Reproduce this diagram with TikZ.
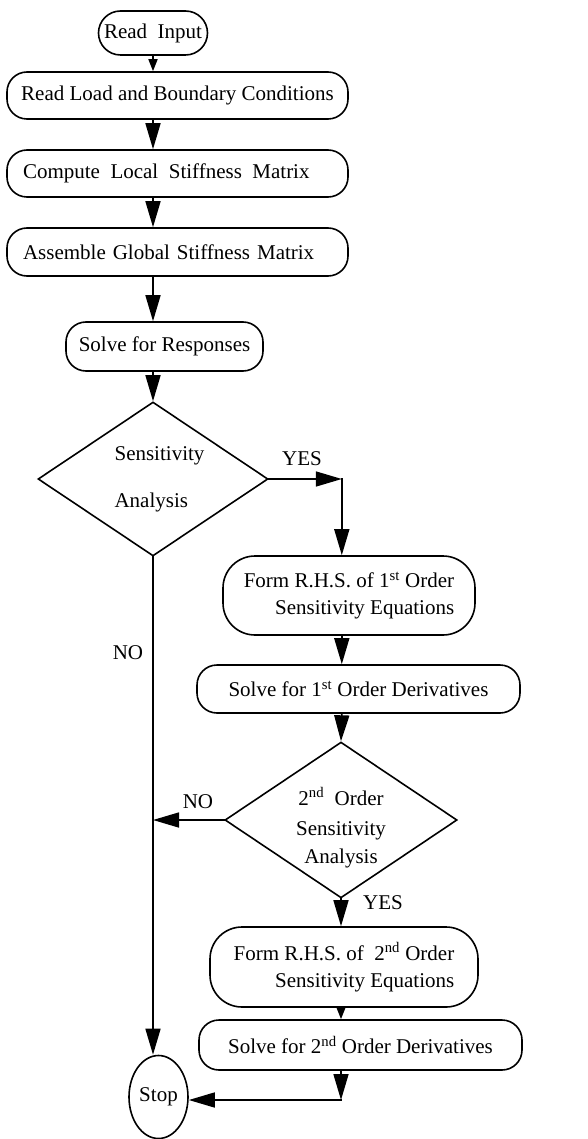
\documentclass[tikz,border=0pt]{standalone}
\usepackage{fontspec}
\setmainfont{Liberation Serif}
\usetikzlibrary{shapes.geometric,arrows.meta,calc}
\begin{document}
\begin{tikzpicture}[x=1pt,y=-1pt,
  every node/.style={font=\fontsize{21}{25}\selectfont},
  proc/.style={draw, line width=1.6pt, rounded corners=#1, inner sep=0pt},
  proc/.default=20pt,
  dec/.style={draw, diamond, line width=1.6pt, inner sep=0pt, shape aspect=1.49,
              minimum width=230pt, minimum height=154pt},
  lbl/.style={inner sep=0pt},
  conn/.style={line width=1.6pt, line cap=rect},
  arr/.style={conn, -{Triangle[length=26pt,width=15pt]}},
  sarr/.style={conn, -{Triangle[length=12pt,width=9pt]}},
]
\useasboundingbox (0,0) rectangle (588,1139);

\node[proc=22pt, minimum width=109pt, minimum height=44pt] (read) at (153,33) {Read\enspace Input};
\node[proc, minimum width=341pt, minimum height=47pt] (load) at (177.5,95.5) {Read Load and Boundary Conditions};
\node[proc, minimum width=341pt, minimum height=47pt, text width=309pt, inner xsep=16pt, align=left] (local) at (177.5,173.5) {Compute\enspace Local\enspace Stiffness\enspace Matrix};
\node[proc, minimum width=341pt, minimum height=48pt, text width=309pt, inner xsep=16pt, align=left] (asm) at (177.5,252) {Assemble Global Stiffness Matrix};
\node[proc, minimum width=197pt, minimum height=49pt] (resp) at (164.5,346.5) {Solve for Responses};
\node[dec, align=left] (d1) at (153,479) {\hspace*{13pt}Sensitivity\\[22pt]\hspace*{13pt}Analysis};
\node[proc=32pt, minimum width=252pt, minimum height=79pt, align=right] (f1) at (349,595.5) {Form R.H.S. of 1\textsuperscript{st} Order\\[2pt]Sensitivity Equations};
\node[proc, minimum width=323pt, minimum height=48pt] (s1) at (358.5,689) {Solve for 1\textsuperscript{st} Order Derivatives};
\node[dec, align=center] (d2) at (341,820) {\rule{0pt}{33pt}2\textsuperscript{nd}\enspace Order\\[5pt]Sensitivity\\[3pt]Analysis};
\node[proc=32pt, minimum width=268pt, minimum height=80pt, align=right] (f2) at (344,967) {Form R.H.S. of\enspace 2\textsuperscript{nd} Order\\[2pt]Sensitivity Equations};
\node[proc, minimum width=323pt, minimum height=50pt] (s2) at (360.5,1045) {Solve for 2\textsuperscript{nd} Order Derivatives};
\node[draw, ellipse, line width=1.6pt, minimum width=59pt, minimum height=83pt, inner sep=0pt] (stop) at (158.5,1097) {Stop};

\node[lbl] (yes1) at (302,459) {YES};
\node[lbl] (no1) at (128,653) {NO};
\node[lbl] (no2) at (198,802) {NO};
\node[lbl] (yes2) at (383,903) {YES};

\path (d1.east) ++(73,0) coordinate (c1);
\coordinate (c2) at (341,1100);

\draw[sarr] (read.south) -- (read.south |- load.north);
\draw[arr] (read.south |- load.south) -- (read.south |- local.north);
\draw[arr] (read.south |- local.south) -- (read.south |- asm.north);
\draw[arr] (read.south |- asm.south) -- (read.south |- resp.north);
\draw[arr] (read.south |- resp.south) -- (d1.north);
\draw[arr] (d1.east) -- (c1);
\draw[arr] (c1) -- (c1 |- f1.north);
\draw[arr] (c1 |- f1.south) -- (c1 |- s1.north);
\draw[arr] (c1 |- s1.south) -- (d2.north);
\draw[arr] (d2.west) -- (d1.south |- d2.west);
\draw[arr] (d1.south) -- (d1.south |- stop.north);
\draw[arr] (d2.south) -- (d2.south |- f2.north);
\draw[sarr] (d2.south |- f2.south) -- (d2.south |- s2.north);
\draw[arr] (d2.south |- s2.south) -- (c2);
\draw[arr] (c2) -- (c2 -| stop.east);
\end{tikzpicture}
\end{document}
